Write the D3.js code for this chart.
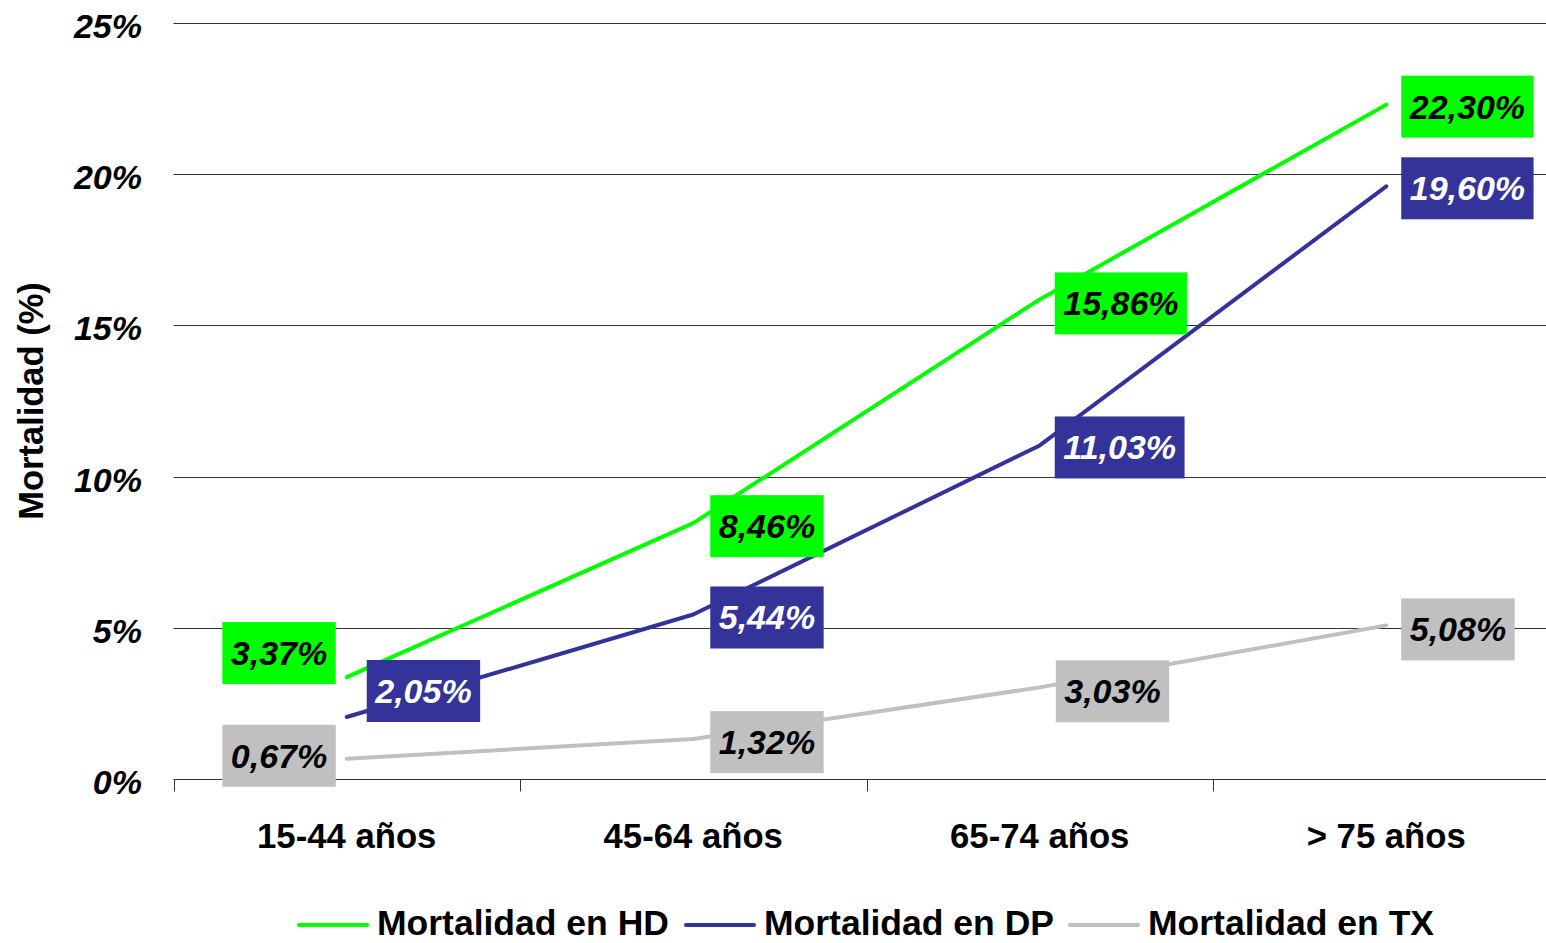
<!DOCTYPE html>
<html><head><meta charset="utf-8">
<script src="https://cdn.jsdelivr.net/npm/d3@7"></script>
<style>
html,body{margin:0;padding:0;background:#fff;}
svg{display:block;font-family:"Liberation Sans",Arial,sans-serif;}
</style></head>
<body>
<svg id="chart" width="1546" height="943"></svg>
<script>
// ---- data ----
const categories = ["15-44 años", "45-64 años", "65-74 años", "> 75 años"];
const seriesNames = ["Mortalidad en HD", "Mortalidad en DP", "Mortalidad en TX"];
const valuesHD = [3.37, 8.46, 15.86, 22.30];
const valuesDP = [2.05, 5.44, 11.03, 19.60];
const valuesTX = [0.67, 1.32, 3.03, 5.08];
const yTicks = [0, 5, 10, 15, 20, 25];
const yTitle = "Mortalidad (%)";

// ---- layout / style (not data) ----
const colors = ["#00ff00", "#333399", "#c0c0c0"];
const labelTextColors = ["#000", "#fff", "#000"];
// label box placement per series per point: [side, edge offset x, center offset y]
const labelLayout = [
  [["end", -11, -24], ["start", 17, 3], ["start", 15, 4], ["start", 15, 2]],
  [["start", 20, -26], ["start", 17, 3], ["start", 15, 2], ["start", 15, 2]],
  [["end", -11, -3], ["start", 17, 3], ["start", 16, 4], ["start", 15, 4]]
];

const svg = d3.select("#chart");
const x = d3.scaleBand().domain(categories).range([173.5, 1559.5]).padding(0);
const y = d3.scaleLinear().domain([0, 25]).range([779, 23]);
const cx = c => x(c) + x.bandwidth() / 2;
const fmt = v => d3.format(".2f")(v).replace(".", ",") + "%";

// gridlines
svg.append("g").selectAll("line").data(yTicks.filter(t => t > 0)).join("line")
  .attr("x1", 173.5).attr("x2", 1546)
  .attr("y1", d => Math.round(y(d)) + 0.5).attr("y2", d => Math.round(y(d)) + 0.5)
  .attr("stroke", "#333").attr("stroke-width", 1);

// x axis
const xAxis = svg.append("g").attr("transform", `translate(0,${Math.round(y(0)) + 0.5})`);
xAxis.append("line").attr("x1", 173.5).attr("x2", 1546).attr("stroke", "#333");
xAxis.selectAll("line.tick").data(categories).join("line").attr("class", "tick")
  .attr("x1", d => Math.round(x(d)) + 0.5).attr("x2", d => Math.round(x(d)) + 0.5)
  .attr("y1", 0).attr("y2", 12).attr("stroke", "#333");
svg.append("g").selectAll("text").data(categories).join("text")
  .attr("x", d => cx(d)).attr("y", 848)
  .attr("text-anchor", "middle").attr("font-size", 34.7).attr("font-weight", "bold")
  .text(d => d);

// y tick labels
svg.append("g").selectAll("text").data(yTicks).join("text")
  .attr("x", 142).attr("y", d => y(d) + 15)
  .attr("text-anchor", "end").attr("font-size", 34).attr("font-weight", "bold").attr("font-style", "italic")
  .text(d => d + "%");

// y title
svg.append("text").attr("transform", "translate(43,401) rotate(-90)")
  .attr("text-anchor", "middle").attr("font-size", 34.5).attr("font-weight", "bold")
  .text(yTitle);

// lines
const allValues = [valuesHD, valuesDP, valuesTX];
const line = d3.line().x((d, i) => cx(categories[i])).y(d => y(d));
svg.append("g").selectAll("path").data(allValues).join("path")
  .attr("d", d => line(d)).attr("fill", "none")
  .attr("stroke", (d, i) => colors[i]).attr("stroke-width", 4)
  .attr("stroke-linejoin", "round").attr("stroke-linecap", "round");

// labels
const lg = svg.append("g");
allValues.forEach((vals, s) => {
  vals.forEach((v, i) => {
    const [side, dx, dy] = labelLayout[s][i];
    const px = cx(categories[i]), py = y(v);
    const g = lg.append("g");
    const rect = g.append("rect").attr("fill", colors[s]);
    const t = g.append("text").attr("font-size", 34).attr("font-weight", "bold").attr("font-style", "italic")
      .attr("fill", labelTextColors[s]).attr("text-anchor", "middle").text(fmt(v));
    const w = t.node().getComputedTextLength() + 17;
    const h = 62;
    const left = side === "start" ? px + dx : px + dx - w;
    const cy = py + dy;
    rect.attr("x", left).attr("y", cy - h / 2).attr("width", w).attr("height", h);
    t.attr("x", left + w / 2).attr("y", cy + 12);
  });
});

// legend
const legendX = [297, 684, 1068];
const leg = svg.append("g");
seriesNames.forEach((n, i) => {
  leg.append("line").attr("x1", legendX[i] + 2).attr("x2", legendX[i] + 70)
    .attr("y1", 925).attr("y2", 925).attr("stroke", colors[i]).attr("stroke-width", 4).attr("stroke-linecap", "round");
  leg.append("text").attr("x", legendX[i] + 80).attr("y", 935)
    .attr("font-size", 35.5).attr("font-weight", "bold").text(n);
});
</script>
</body></html>
